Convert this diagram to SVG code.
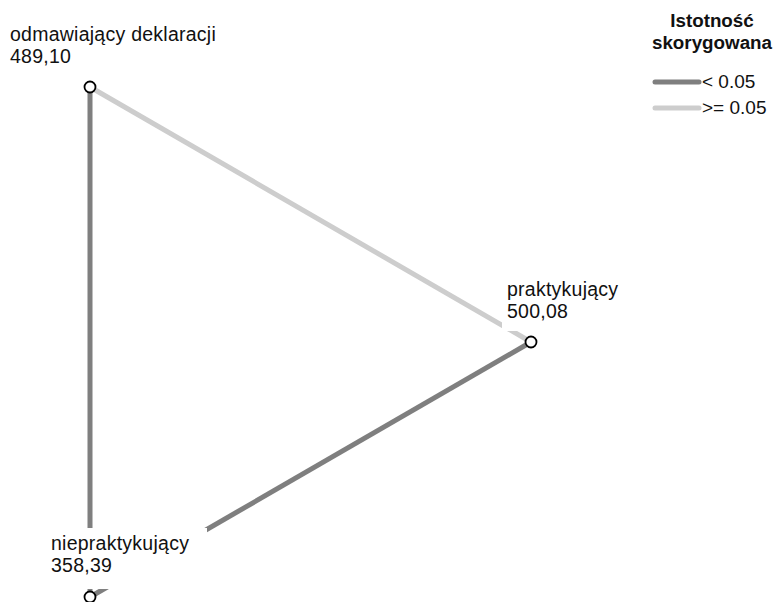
<svg xmlns="http://www.w3.org/2000/svg" width="776" height="602" viewBox="0 0 776 602">
<style>
.sig{stroke:#7f7f7f;stroke-width:5;fill:none}
.ns{stroke:#cdcdcd;stroke-width:5;fill:none}
.node{fill:#fff;stroke:#000;stroke-width:1.8}
.box{fill:#fff;stroke:none}
.lbl{font-family:"Liberation Sans",Arial,sans-serif;font-size:19.5px;letter-spacing:0.25px;fill:#111}
.leg{font-family:"Liberation Sans",Arial,sans-serif;font-size:19px;fill:#111}
.ttl{font-family:"Liberation Sans",Arial,sans-serif;font-size:18.8px;font-weight:bold;fill:#111;text-anchor:middle}
</style>
<rect width="776" height="602" fill="#fff"/>
<g id="connectors">
<line class="sig" x1="90" y1="87" x2="90" y2="597"/>
<line class="ns" x1="90" y1="87" x2="531" y2="342"/>
<line class="sig" x1="531" y1="342" x2="90" y2="597"/>
</g>
<g id="node-odmawiajacy">
<circle class="node" cx="90" cy="87" r="5.5"/>
<rect class="box" x="5" y="22" width="225" height="48"/>
<text class="lbl" x="10" y="41">odmawiający deklaracji</text>
<text class="lbl" x="10" y="63">489,10</text>
</g>
<g id="node-praktykujacy">
<circle class="node" cx="531" cy="342" r="5.5"/>
<rect class="box" x="502" y="278" width="130" height="53"/>
<text class="lbl" x="507" y="296">praktykujący</text>
<text class="lbl" x="507" y="318">500,08</text>
</g>
<g id="node-niepraktykujacy">
<circle class="node" cx="90" cy="597" r="5.5"/>
<rect class="box" x="45" y="528" width="162" height="61"/>
<text class="lbl" x="51" y="550">niepraktykujący</text>
<text class="lbl" x="51" y="572">358,39</text>
</g>
<g id="legend">
<text class="ttl" x="712" y="27">Istotność</text>
<text class="ttl" x="712" y="49">skorygowana</text>
<line x1="655" y1="82" x2="699" y2="82" stroke="#7f7f7f" stroke-width="5" stroke-linecap="round"/>
<text class="leg" x="702" y="88">&lt; 0.05</text>
<line x1="655" y1="108" x2="699" y2="108" stroke="#cdcdcd" stroke-width="5" stroke-linecap="round"/>
<text class="leg" x="702" y="114">&gt;= 0.05</text>
</g>
</svg>
